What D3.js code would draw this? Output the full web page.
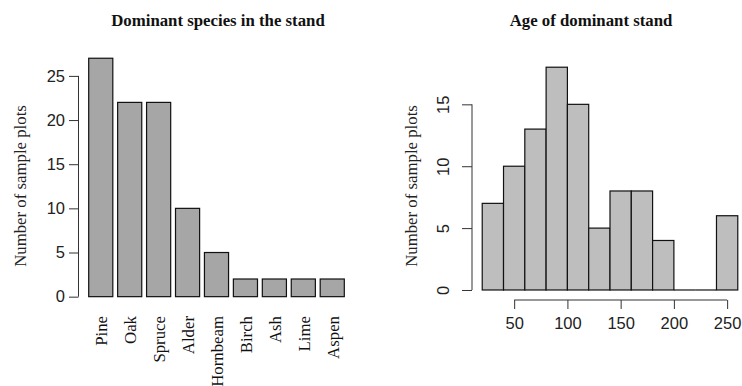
<!DOCTYPE html>
<html>
<head>
<meta charset="utf-8">
<script src="https://cdn.jsdelivr.net/npm/d3@7"></script>
<style>
  html, body { margin: 0; padding: 0; background: #fff; }
  svg { display: block; }
  .serif { font-family: "Liberation Serif", "Times New Roman", serif; }
  .sans { font-family: "Liberation Sans", Arial, sans-serif; }
</style>
</head>
<body>
<script>
// ---- data ----
const species = ["Pine", "Oak", "Spruce", "Alder", "Hornbeam", "Birch", "Ash", "Lime", "Aspen"];
const speciesCounts = [27, 22, 22, 10, 5, 2, 2, 2, 2];
const speciesTicks = [0, 5, 10, 15, 20, 25];

const ageBinStarts = [20, 40, 60, 80, 100, 120, 140, 160, 180, 200, 220, 240];
const ageBinEnds   = [40, 60, 80, 100, 120, 140, 160, 180, 200, 220, 240, 260];
const ageCounts    = [7, 10, 13, 18, 15, 5, 8, 8, 4, 0, 0, 6];
const ageXTicks = [50, 100, 150, 200, 250];
const ageYTicks = [0, 5, 10, 15];

const W = 742, H = 386;
const svg = d3.select("body").append("svg").attr("width", W).attr("height", H);

const axisCol = "#333";
const tickFont = "16.5px";
const serifFont = "16.8px";

// ---------- Left: barplot ----------
const L = svg.append("g");
const xL = d3.scaleBand().domain(species).range([88.7, 344.3]).paddingInner(0.2 / 1.2).paddingOuter(0);
const yL = d3.scaleLinear().domain([-1.08, 28.08]).range([306.2, 48.7]);

L.selectAll("rect.bar").data(species).join("rect")
  .attr("x", d => xL(d)).attr("width", xL.bandwidth())
  .attr("y", (d, i) => yL(speciesCounts[i]))
  .attr("height", (d, i) => yL(0) - yL(speciesCounts[i]))
  .attr("fill", "#A6A6A6").attr("stroke", "#111").attr("stroke-width", 1.2);

// y axis
const yAxL = L.append("g").attr("transform", "translate(78.5,0)")
  .call(d3.axisLeft(yL).tickValues(speciesTicks).tickSize(9.5).tickPadding(4).tickSizeOuter(0));
yAxL.select(".domain").attr("d", `M0,${yL(0)}V${yL(25)}`).attr("stroke", axisCol);
yAxL.selectAll(".tick line").attr("stroke", axisCol);
yAxL.selectAll(".tick text").attr("class", "sans").style("font-size", tickFont).attr("fill", "#222");

// category labels (rotated)
L.selectAll("text.cat").data(species).join("text")
  .attr("class", "serif cat")
  .attr("transform", d => `translate(${xL(d) + xL.bandwidth() / 2 + 1},316) rotate(-90)`)
  .attr("text-anchor", "end").attr("dy", "0.33em")
  .style("font-size", serifFont).attr("fill", "#111")
  .text(d => d);

L.append("text").attr("class", "serif")
  .attr("transform", "translate(20,186) rotate(-90)")
  .attr("text-anchor", "middle").attr("dy", "0.33em")
  .style("font-size", serifFont).attr("fill", "#222")
  .text("Number of sample plots");

L.append("text").attr("class", "serif")
  .attr("x", 218).attr("y", 25.5).attr("text-anchor", "middle")
  .style("font-size", serifFont).style("font-weight", "bold").attr("fill", "#111")
  .text("Dominant species in the stand");

// ---------- Right: histogram ----------
const R = svg.append("g");
const xR = d3.scaleLinear().domain([10.4, 269.6]).range([472, 748]);
const yR = d3.scaleLinear().domain([-0.72, 18.72]).range([298.9, 58.3]);

const bins = ageCounts.map((c, i) => ({ c, x0: ageBinStarts[i], x1: ageBinEnds[i] }));

R.selectAll("rect.bin").data(bins.filter(b => b.c > 0)).join("rect")
  .attr("x", d => xR(d.x0))
  .attr("width", d => xR(d.x1) - xR(d.x0))
  .attr("y", d => yR(d.c))
  .attr("height", d => yR(0) - yR(d.c))
  .attr("fill", "#BEBEBE").attr("stroke", "#111").attr("stroke-width", 1.2);

// zero-height bins render as a flat line (as R does)
R.selectAll("line.zero").data(bins.filter(b => b.c === 0)).join("line")
  .attr("x1", d => xR(d.x0)).attr("x2", d => xR(d.x1))
  .attr("y1", yR(0)).attr("y2", yR(0))
  .attr("stroke", "#111").attr("stroke-width", 1.2);

const yAxR = R.append("g").attr("transform", "translate(472,0)")
  .call(d3.axisLeft(yR).tickValues(ageYTicks).tickSize(10).tickSizeOuter(0));
yAxR.select(".domain").attr("d", `M0,${yR(0)}V${yR(15)}`).attr("stroke", axisCol);
yAxR.selectAll(".tick line").attr("stroke", axisCol);
yAxR.selectAll(".tick text").attr("class", "sans")
  .attr("x", null).attr("dy", null)
  .attr("text-anchor", "middle")
  .attr("transform", "translate(-29,0) rotate(-90)")
  .attr("dy", "0.35em")
  .style("font-size", tickFont).attr("fill", "#222");

const xAxR = R.append("g").attr("transform", "translate(0,300)")
  .call(d3.axisBottom(xR).tickValues(ageXTicks).tickSize(9).tickPadding(8).tickSizeOuter(0));
xAxR.select(".domain").attr("d", `M${xR(50)},0H${xR(250)}`).attr("stroke", axisCol);
xAxR.selectAll(".tick line").attr("stroke", axisCol);
xAxR.selectAll(".tick text").attr("class", "sans").style("font-size", tickFont).attr("fill", "#222");

R.append("text").attr("class", "serif")
  .attr("transform", "translate(411.5,186) rotate(-90)")
  .attr("text-anchor", "middle").attr("dy", "0.33em")
  .style("font-size", serifFont).attr("fill", "#222")
  .text("Number of sample plots");

R.append("text").attr("class", "serif")
  .attr("x", 591).attr("y", 25.5).attr("text-anchor", "middle")
  .style("font-size", serifFont).style("font-weight", "bold").attr("fill", "#111")
  .text("Age of dominant stand");
</script>
</body>
</html>
